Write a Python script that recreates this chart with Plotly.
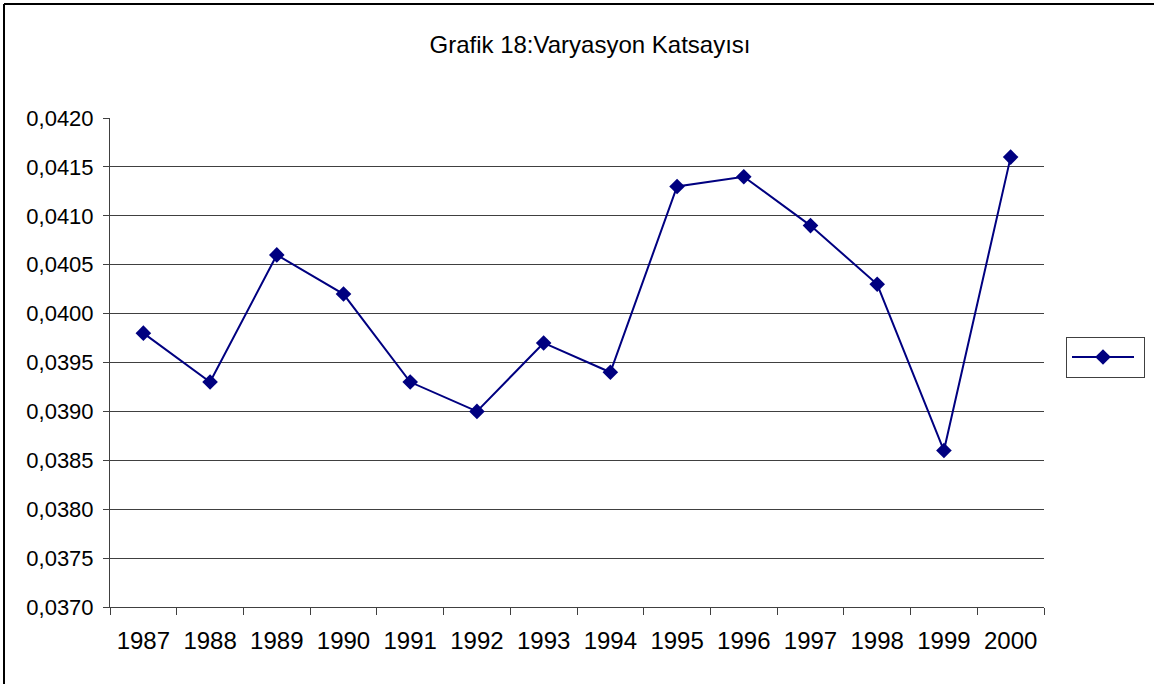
import plotly.graph_objects as go

years = ["1987", "1988", "1989", "1990", "1991", "1992", "1993",
         "1994", "1995", "1996", "1997", "1998", "1999", "2000"]
values = [0.0398, 0.0393, 0.0406, 0.0402, 0.0393, 0.0390, 0.0397,
          0.0394, 0.0413, 0.0414, 0.0409, 0.0403, 0.0386, 0.0416]
title_text = "Grafik 18:Varyasyon Katsayısı"

W, H = 1154, 684
L, R, T, B = 110, 1044, 118, 607
pw, ph = R - L, B - T

fig = go.Figure()
fig.add_trace(go.Scatter(
    x=years, y=values, mode="lines+markers", name="",
    line=dict(color="#000080", width=2),
    marker=dict(symbol="diamond", size=12, color="#000080"),
    showlegend=True,
))

fig.update_layout(
    width=W, height=H,
    margin=dict(l=L, r=W - R, t=T, b=H - B, pad=0, autoexpand=False),
    paper_bgcolor="white", plot_bgcolor="white",
    font=dict(family="Liberation Sans, Arial, sans-serif", color="black"),
    separators=",.",
    title=dict(text=title_text, x=590 / W, xanchor="center",
               y=1 - 45 / H, yanchor="middle", yref="container",
               font=dict(size=24, color="black")),
    xaxis=dict(type="category", range=[-0.5, len(years) - 0.5],
               showline=True, linecolor="#404040", linewidth=1,
               ticks="outside", tickson="boundaries", ticklen=7,
               tickcolor="#404040", showgrid=False, ticklabelstandoff=12,
               tickfont=dict(size=24), zeroline=False),
    yaxis=dict(range=[0.0370, 0.0420], dtick=0.0005, tick0=0.0370,
               tickformat=".4f", showline=True, linecolor="#404040",
               linewidth=1, ticks="outside", ticklen=6, tickcolor="#404040",
               showgrid=True, gridcolor="#404040", gridwidth=1,
               ticklabelstandoff=5,
               tickfont=dict(size=22), zeroline=False),
    legend=dict(x=(1066 - L) / pw, xanchor="left",
                y=(B - 357) / ph, yanchor="middle",
                bordercolor="#404040", borderwidth=1, bgcolor="white",
                font=dict(size=20), itemwidth=62),
    shapes=[
        dict(type="line", xref="paper", yref="paper",
             x0=(4 - L) / pw, x1=(1160 - L) / pw,
             y0=(B - 4) / ph, y1=(B - 4) / ph,
             line=dict(color="black", width=2), layer="below"),
        dict(type="line", xref="paper", yref="paper",
             x0=(4 - L) / pw, x1=(4 - L) / pw,
             y0=(B - 4) / ph, y1=(B - 700) / ph,
             line=dict(color="black", width=2), layer="below"),
    ],
)

fig.write_html("out.html",
               config={"displayModeBar": False},
               post_script="document.body.style.margin='0';"
                           "document.body.style.overflow='hidden';")
